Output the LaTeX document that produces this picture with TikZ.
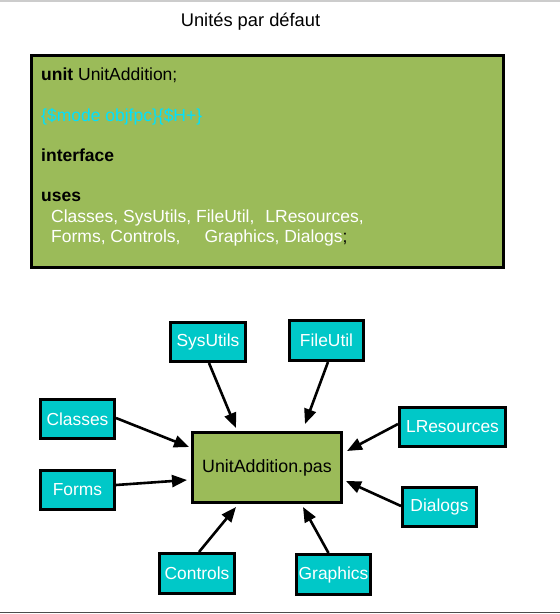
\documentclass[tikz,border=0pt]{standalone}
\usepackage{fontspec}
\setmainfont{Liberation Sans}
\usetikzlibrary{arrows.meta}
\definecolor{olivegreen}{RGB}{155,187,89}
\definecolor{boxcyan}{RGB}{0,200,200}
\definecolor{codecyan}{RGB}{0,225,255}
\begin{document}
\begin{tikzpicture}[x=1pt,y=-1pt,
  unitbox/.style={draw=black,line width=3pt,fill=boxcyan,text=white,
    inner sep=0pt,font=\fontsize{17.4}{19}\selectfont},
  mainbox/.style={draw=black,line width=3pt,fill=olivegreen,text=black,
    inner sep=0pt,font=\fontsize{17.8}{20}\selectfont},
  codeline/.style={anchor=base west,inner sep=0pt,font=\fontsize{17.5}{20}\selectfont},
  usearrow/.style={line width=2.6pt,-{Triangle[length=15pt,width=12pt]}}]
\useasboundingbox (0,0) rectangle (560,614);
\coordinate (tl) at (0,0.8);
\coordinate (tr) at (560,0.8);
\coordinate (bl) at (0,612.5);
\coordinate (br) at (560,612.5);
\draw[line width=1.6pt,color=black!20] (tl) -- (tr);
\draw[line width=1.6pt,color=black!70] (bl) -- (br);

\node[anchor=base,inner sep=0pt,font=\fontsize{18.3}{20}\selectfont] (title) at (250.5,26.5) {Unités par défaut};

\node[draw=black,line width=3pt,fill=olivegreen,minimum width=472pt,minimum height=212pt,inner sep=0pt] (code) at (267.5,161.5) {};
\node[codeline] (l1) at (41,80.5) {\textbf{unit} UnitAddition;};
\node[codeline,text=codecyan] (l2) at (41,121.5) {\{\$mode objfpc\}\{\$H+\}};
\node[codeline] (l3) at (41,161) {\textbf{interface}};
\node[codeline] (l4) at (41,201.5) {\textbf{uses}};
\node[codeline,text=white] (l5) at (51,222) {Classes, SysUtils, FileUtil,\hspace{11pt}LResources,};
\node[codeline,text=white] (l6) at (51,242.5) {Forms, Controls,\hspace{24pt}Graphics, Dialogs\textcolor{black}{;}};

\node[mainbox,minimum width=149pt,minimum height=70pt] (unit) at (267,467.5) {UnitAddition.pas};
\node[unitbox,minimum width=75pt,minimum height=39pt] (sysutils) at (208,342) {SysUtils};
\node[unitbox,minimum width=74pt,minimum height=40pt] (fileutil) at (326.5,340.5) {FileUtil};
\node[unitbox,minimum width=74pt,minimum height=39pt] (classes) at (77.5,419) {Classes};
\node[unitbox,minimum width=106pt,minimum height=39pt] (lresources) at (452.5,427) {LResources};
\node[unitbox,minimum width=74pt,minimum height=39pt] (forms) at (77.5,490) {Forms};
\node[unitbox,minimum width=74pt,minimum height=39pt] (dialogs) at (439.5,507) {Dialogs};
\node[unitbox,minimum width=75pt,minimum height=40pt] (controls) at (197,573.5) {Controls};
\node[unitbox,minimum width=74pt,minimum height=40pt] (graphics) at (333.5,574.5) {Graphics};

\coordinate (eS) at (236,428);
\coordinate (eF) at (305,424);
\coordinate (eC) at (189,447);
\coordinate (eFo) at (187,480);
\coordinate (eL) at (347,451);
\coordinate (eD) at (346,481);
\coordinate (eCo) at (236,507);
\coordinate (eG) at (303,507);

\draw[usearrow] ([xshift=1pt]sysutils.south) -- (eS);
\draw[usearrow] ([xshift=1.5pt]fileutil.south) -- (eF);
\draw[usearrow] ([yshift=1pt]classes.east) -- (eC);
\draw[usearrow] ([yshift=5pt]forms.east) -- (eFo);
\draw[usearrow] ([yshift=3pt]lresources.west) -- (eL);
\draw[usearrow] ([yshift=1pt]dialogs.west) -- (eD);
\draw[usearrow] ([xshift=2pt]controls.north) -- (eCo);
\draw[usearrow] ([xshift=-5pt]graphics.north) -- (eG);
\end{tikzpicture}
\end{document}
